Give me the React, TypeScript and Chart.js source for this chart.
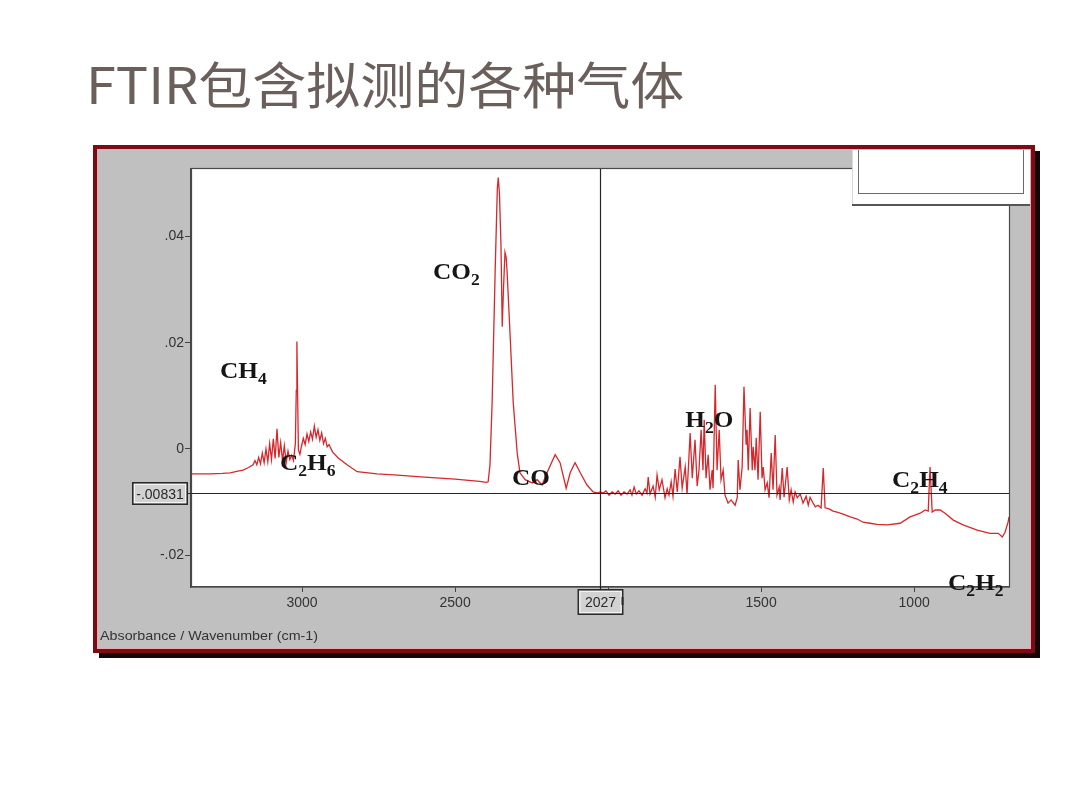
import React, { useEffect, useRef } from "react";
import { Chart, registerables } from "chart.js";

Chart.register(...registerables);

// ---------- DATA ----------
const titleText = "FTIR包含拟测的各种气体";
const axisTitle = "Absorbance / Wavenumber (cm-1)";

// Segment 1: 3363–2398 cm-1 (baseline, CH4 / C2H6 bands)
const hcWavenumber = [
  3363, 3330, 3301, 3260, 3235, 3210, 3193, 3175, 3160, 3154, 3148, 3142, 3136, 3130, 3124, 3118,
  3112, 3106, 3100, 3094, 3088, 3082, 3076, 3070, 3064, 3058, 3052, 3046, 3040, 3034, 3028, 3022,
  3019, 3017, 3015, 3012, 3007, 3002, 2996, 2990, 2984, 2978, 2972, 2966, 2960, 2954, 2948, 2942,
  2936, 2930, 2924, 2918, 2912, 2900, 2882, 2853, 2820, 2755, 2700, 2600, 2500, 2420, 2398,
];
const hcAbsorbance = [
  -0.0047, -0.0047, -0.0047, -0.0046, -0.0045, -0.0042, -0.004, -0.0035, -0.003, -0.0022, -0.003,
  -0.0016, -0.0028, -0.0008, -0.0026, 0.0, -0.0024, 0.001, -0.002, 0.0019, -0.0018, 0.0038, -0.0016,
  0.0012, -0.0022, 0.0006, -0.0026, -0.0004, -0.002, -0.0012, -0.0022, 0.001, 0.011, 0.0202, 0.012,
  -0.0002, -0.001, 0.0005, 0.002, 0.0008, 0.0028, 0.0014, 0.0032, 0.0018, 0.0043, 0.0022, 0.0036,
  0.0016, 0.003, 0.001, 0.002, 0.0004, 0.0008, -0.0006, -0.0017, -0.003, -0.0043, -0.0047, -0.0049,
  -0.0053, -0.0057, -0.0061, -0.0063,
];

// Segment 2: 2392–2026 cm-1 (CO2 and CO bands)
const co2Wavenumber = [
  2392, 2386, 2379, 2369, 2362, 2359, 2355, 2350, 2346, 2342, 2337, 2333, 2330, 2320, 2310, 2297,
  2288, 2271, 2248, 2232, 2216, 2196, 2173, 2157, 2137, 2124, 2108, 2091, 2069, 2049, 2035, 2026,
];
const co2Absorbance = [
  -0.0062, -0.003, 0.0087, 0.0338, 0.049, 0.0511, 0.048, 0.038, 0.023, 0.03, 0.037, 0.036, 0.0332,
  0.0211, 0.0087, -0.0008, -0.0045, -0.0058, -0.0064, -0.0058, -0.0068, -0.004, -0.0011, -0.0026,
  -0.0074, -0.0045, -0.0026, -0.0045, -0.0068, -0.0081, -0.0083, -0.0081,
];

// Segment 3: 2016–1291 cm-1 (H2O band)
const h2oWavenumber = [
  2016, 2007, 1997, 1987, 1977, 1967, 1958, 1948, 1938, 1928, 1922, 1915, 1908, 1899, 1889, 1879,
  1873, 1869, 1863, 1853, 1846, 1840, 1833, 1824, 1814, 1807, 1801, 1794, 1788, 1781, 1774, 1765,
  1758, 1748, 1742, 1732, 1725, 1716, 1709, 1703, 1696, 1690, 1686, 1680, 1673, 1667, 1660, 1657,
  1650, 1644, 1637, 1631, 1624, 1618, 1608, 1598, 1585, 1578, 1575, 1569, 1562, 1556, 1549, 1546,
  1542, 1536, 1529, 1526, 1520, 1516, 1510, 1503, 1497, 1493, 1487, 1480, 1474, 1467, 1461, 1454,
  1448, 1441, 1438, 1431, 1425, 1415, 1408, 1402, 1395, 1389, 1382, 1372, 1363, 1353, 1346, 1340,
  1330, 1323, 1314, 1304, 1297, 1291,
];
const h2oAbsorbance = [
  -0.0083, -0.0079, -0.0087, -0.0081, -0.0085, -0.0079, -0.0087, -0.0081, -0.0085, -0.0077, -0.0087,
  -0.0072, -0.0085, -0.0079, -0.0087, -0.0075, -0.0083, -0.0053, -0.0085, -0.007, -0.0091, -0.0049,
  -0.0077, -0.0058, -0.0092, -0.0075, -0.0087, -0.0062, -0.0089, -0.0038, -0.0081, -0.0015, -0.0074,
  -0.0034, -0.0085, 0.003, -0.0055, 0.0017, -0.007, -0.004, 0.0036, -0.004, 0.0055, -0.0055, -0.0011,
  -0.0077, -0.004, -0.0074, 0.0121, -0.004, 0.0036, -0.0058, -0.004, -0.0087, -0.0102, -0.0096,
  -0.0106, -0.0092, -0.0021, -0.0077, -0.0034, 0.0117, 0.0008, 0.0036, -0.004, 0.0077, -0.004, 0.0004,
  -0.004, 0.0021, -0.0058, 0.007, -0.0055, -0.0034, -0.0077, -0.0064, -0.0092, -0.0008, -0.0077,
  0.0026, -0.0087, -0.0072, -0.0096, -0.0036, -0.0091, -0.0034, -0.0096, -0.0077, -0.01, -0.0081,
  -0.0092, -0.0085, -0.0102, -0.0089, -0.0106, -0.0091, -0.0102, -0.0109, -0.0106, -0.0111, -0.0036,
  -0.0111,
];

// Segment 4: 1278–690 cm-1 (C2H4 / C2H2 region)
const tailWavenumber = [
  1278, 1265, 1252, 1232, 1209, 1186, 1167, 1144, 1121, 1088, 1046, 1013, 980, 964, 954, 948, 941,
  931, 915, 899, 872, 840, 794, 752, 725, 712, 703, 693, 690,
];
const tailAbsorbance = [
  -0.0113, -0.0117, -0.0119, -0.0123, -0.0128, -0.0132, -0.0138, -0.014, -0.0142, -0.0143, -0.014,
  -0.0128, -0.0121, -0.0115, -0.0117, -0.0034, -0.0119, -0.0115, -0.0115, -0.0121, -0.0134, -0.0143,
  -0.0153, -0.0159, -0.0159, -0.0166, -0.0157, -0.0138, -0.0128,
];

const xMin = 690;
const xMax = 3363;
const yMin = -0.026;
const yMax = 0.0527;
const xTickValues = [3000, 2500, 2000, 1500, 1000];
const xTickLabels = ["3000", "2500", "", "1500", "1000"];
const yTickValues = [0.04, 0.02, 0, -0.02];
const yTickLabels = [".04", ".02", "0", "-.02"];
const cursorX = 2027;
const cursorY = -0.00831;
const cursorXLabel = "2027";
const cursorYLabel = "-.00831";

type Part = { t: string; sub?: boolean };
const labelNames: Part[][] = [
  [{ t: "CH" }, { t: "4", sub: true }],
  [{ t: "C" }, { t: "2", sub: true }, { t: "H" }, { t: "6", sub: true }],
  [{ t: "CO" }, { t: "2", sub: true }],
  [{ t: "CO" }],
  [{ t: "H" }, { t: "2", sub: true }, { t: "O" }],
  [{ t: "C" }, { t: "2", sub: true }, { t: "H" }, { t: "4", sub: true }],
  [{ t: "C" }, { t: "2", sub: true }, { t: "H" }, { t: "2", sub: true }],
];
const labelWavenumber = [3268, 3072, 2572, 2314, 1748, 1072, 889];
const labelAbsorbance = [0.0134, -0.004, 0.0319, -0.0068, 0.0042, -0.0072, -0.0266];

// ---------- helpers ----------
function scaledText(
  ctx: CanvasRenderingContext2D,
  text: string,
  x: number,
  y: number,
  font: string,
  color: string,
  sx: number,
  align: CanvasTextAlign = "left"
) {
  ctx.save();
  ctx.font = font;
  ctx.fillStyle = color;
  ctx.textBaseline = "alphabetic";
  ctx.textAlign = align;
  ctx.translate(x, y);
  ctx.scale(sx, 1);
  ctx.fillText(text, 0, 0);
  ctx.restore();
}

function valueBox(ctx: CanvasRenderingContext2D, x: number, y: number, w: number, h: number, text: string) {
  ctx.save();
  ctx.fillStyle = "#d2d2d2";
  ctx.fillRect(x, y, w, h);
  ctx.strokeStyle = "#f4f4f4";
  ctx.lineWidth = 1;
  ctx.strokeRect(x + 2.5, y + 2.5, w - 5, h - 5);
  ctx.strokeStyle = "#2a2a2a";
  ctx.lineWidth = 1.5;
  ctx.strokeRect(x + 0.75, y + 0.75, w - 1.5, h - 1.5);
  ctx.restore();
  scaledText(ctx, text, x + w / 2, y + h / 2 + 5, '14px "Liberation Sans", Arial', "#2a2a2a", 1.0, "center");
}

const decorPlugin = {
  id: "decor",
  beforeDraw(chart: any) {
    const ctx: CanvasRenderingContext2D = chart.ctx;
    const { left, right, top, bottom } = chart.chartArea;
    ctx.save();
    ctx.fillStyle = "#ffffff";
    ctx.fillRect(0, 0, chart.width, chart.height);
    // drop shadow
    ctx.fillStyle = "#140606";
    ctx.fillRect(99, 151, 941, 507);
    // dark red frame
    ctx.fillStyle = "#7c0b15";
    ctx.fillRect(93, 145, 942, 508);
    ctx.fillStyle = "#e9a7a7";
    ctx.fillRect(97, 149, 934, 500);
    ctx.fillStyle = "#c0c0c0";
    ctx.fillRect(98, 150, 932, 498);
    // plot area
    ctx.fillStyle = "#ffffff";
    ctx.fillRect(left, top, right - left, bottom - top);
    ctx.restore();
  },
  afterDraw(chart: any) {
    const ctx: CanvasRenderingContext2D = chart.ctx;
    const { left, right, top, bottom } = chart.chartArea;
    const xs = chart.scales.x;
    const ys = chart.scales.y;

    // plot border
    ctx.save();
    ctx.strokeStyle = "#4a4a4a";
    ctx.lineWidth = 1.2;
    ctx.strokeRect(left + 0.5, top - 0.5, right - left, bottom - top + 0.5);
    ctx.restore();

    // cursor crosshair
    const cx = Math.round(xs.getPixelForValue(cursorX)) + 0.5;
    const cy = Math.round(ys.getPixelForValue(cursorY)) + 0.5;
    ctx.save();
    ctx.strokeStyle = "#262626";
    ctx.lineWidth = 1.2;
    ctx.beginPath();
    ctx.moveTo(cx, top);
    ctx.lineTo(cx, bottom + 2);
    ctx.moveTo(left - 3, cy);
    ctx.lineTo(right, cy);
    ctx.stroke();
    ctx.restore();
    valueBox(ctx, 132, cy - 11.5, 56, 23, cursorYLabel);
    valueBox(ctx, cx - 23, bottom + 2, 46, 26, cursorXLabel);
    ctx.save();
    ctx.fillStyle = "#2a2a2a";
    ctx.fillRect(cx + 21, bottom + 10, 2, 8);
    ctx.restore();

    // legend box (top-right)
    ctx.save();
    ctx.fillStyle = "#ffffff";
    ctx.fillRect(852, 150, 178, 55);
    ctx.fillStyle = "#d8d8d8";
    ctx.fillRect(852, 150, 1, 55);
    ctx.fillStyle = "#555555";
    ctx.fillRect(852, 204, 178, 2);
    ctx.strokeStyle = "#6a6a6a";
    ctx.lineWidth = 1;
    ctx.strokeRect(858.5, 146.5, 165, 47);
    ctx.restore();
    // re-draw frame top edge over legend box
    ctx.save();
    ctx.fillStyle = "#7c0b15";
    ctx.fillRect(93, 145, 942, 4);
    ctx.fillStyle = "#e9a7a7";
    ctx.fillRect(97, 149, 934, 1);
    ctx.restore();

    // gas labels
    const mainFont = 'bold 23px "Liberation Serif", "Times New Roman", serif';
    const subFont = 'bold 16px "Liberation Serif", "Times New Roman", serif';
    const sx = 1.1;
    labelNames.forEach((parts, i) => {
      let x = xs.getPixelForValue(labelWavenumber[i]);
      const y = ys.getPixelForValue(labelAbsorbance[i]);
      parts.forEach((p) => {
        const font = p.sub ? subFont : mainFont;
        ctx.save();
        ctx.font = font;
        const w = ctx.measureText(p.t).width * sx;
        ctx.restore();
        scaledText(ctx, p.t, x, p.sub ? y + 6 : y, font, "#151515", sx);
        x += w;
      });
    });

    // axis title
    scaledText(ctx, axisTitle, 100, 640, '13px "Liberation Sans", Arial', "#333333", 1.1);

    // slide title
    scaledText(ctx, titleText, 86, 104, '50px "Noto Sans CJK SC", "Noto Sans", sans-serif', "#6b5f5b", 1.08);
  },
};

export default function App() {
  const canvasRef = useRef<HTMLCanvasElement | null>(null);

  useEffect(() => {
    const canvas = canvasRef.current;
    if (!canvas) return;
    const wn = [...hcWavenumber, ...co2Wavenumber, ...h2oWavenumber, ...tailWavenumber];
    const ab = [...hcAbsorbance, ...co2Absorbance, ...h2oAbsorbance, ...tailAbsorbance];
    const points = wn.map((w, i) => ({ x: w, y: ab[i] }));

    const chart = new Chart(canvas, {
      type: "line",
      data: {
        datasets: [
          {
            label: "Absorbance",
            data: points,
            borderColor: "rgb(214,40,44)",
            borderWidth: 1.3,
            pointRadius: 0,
            tension: 0,
            fill: false,
          },
        ],
      },
      options: {
        responsive: false,
        maintainAspectRatio: false,
        animation: false,
        devicePixelRatio: 1,
        layout: { padding: { left: 0, right: 71, top: 169, bottom: 193 } },
        plugins: { legend: { display: false }, tooltip: { enabled: false }, title: { display: false } },
        scales: {
          x: {
            type: "linear",
            reverse: true,
            min: xMin,
            max: xMax,
            afterFit: (s: any) => {
              s.height = 30;
            },
            afterBuildTicks: (s: any) => {
              s.ticks = xTickValues.map((v) => ({ value: v }));
            },
            ticks: {
              autoSkip: false,
              maxRotation: 0,
              padding: 3,
              color: "#333333",
              font: { family: '"Liberation Sans", Arial', size: 14 },
              callback: (v: any) => {
                const i = xTickValues.indexOf(Number(v));
                return i >= 0 ? xTickLabels[i] : "";
              },
            },
            grid: { drawOnChartArea: false, drawTicks: true, tickLength: 5, color: "#444444" },
            border: { display: true, color: "#444444", width: 1.2 },
          },
          y: {
            type: "linear",
            min: yMin,
            max: yMax,
            afterFit: (s: any) => {
              s.width = 191;
            },
            afterBuildTicks: (s: any) => {
              s.ticks = yTickValues.map((v) => ({ value: v }));
            },
            ticks: {
              padding: 1,
              color: "#333333",
              font: { family: '"Liberation Sans", Arial', size: 14 },
              callback: (v: any) => {
                const i = yTickValues.findIndex((t) => Math.abs(t - Number(v)) < 1e-9);
                return i >= 0 ? yTickLabels[i] : "";
              },
            },
            grid: { drawOnChartArea: false, drawTicks: true, tickLength: 6, color: "#444444" },
            border: { display: true, color: "#444444", width: 1.2 },
          },
        },
      },
      plugins: [decorPlugin],
    });
    return () => chart.destroy();
  }, []);

  return (
    <div style={{ position: "fixed", left: 0, top: 0, width: 1080, height: 810, background: "#fff" }}>
      <canvas ref={canvasRef} width={1080} height={810} style={{ width: 1080, height: 810, display: "block" }} />
    </div>
  );
}
